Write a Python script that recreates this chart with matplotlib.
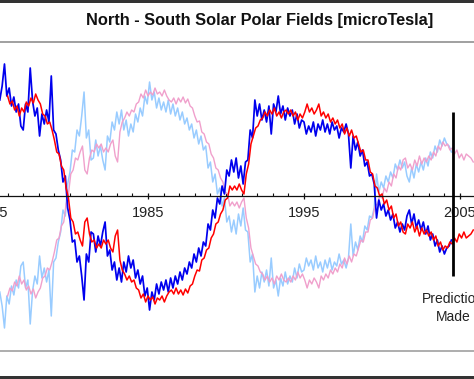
import numpy as np
import matplotlib
matplotlib.use("Agg")
import matplotlib.pyplot as plt
from matplotlib.patches import Rectangle
from matplotlib.lines import Line2D

# ---------------- data ----------------
title = "North - South Solar Polar Fields [microTesla]"
tick_years = [1975, 1985, 1995, 2005]
tick_labels = ["1975", "1985", "1995", "2005"]
prediction_year = 2004.57
prediction_span = (-80, 84)
prediction_text = "Prediction\nMade"

# North - South polar field (noisy), sampled every 0.15 yr from 1975.50
ns_start = 1975.50
ns_step = 0.15
ns_values = [
    96, 110, 132, 100, 108, 90, 99, 84, 92, 70,
    66, 92, 84, 128, 95, 80, 88, 60, 82, 72,
    86, 74, 120, 66, 62, 46, 36, 14, 20, -12,
    -24, -46, -44, -66, -60, -80, -104, -58, -66, -36,
    -38, -56, -40, -50, -36, -26, -60, -54, -74, -66,
    -84, -72, -86, -66, -76, -60, -72, -64, -82, -74,
    -88, -80, -100, -92, -114, -96, -104, -88, -98, -86,
    -94, -84, -96, -82, -92, -80, -88, -76, -84, -72,
    -78, -66, -72, -58, -66, -52, -60, -46, -50, -28,
    -34, -14, -22, -2, -8, 10, 2, 26, 20, 36,
    24, 38, 18, 30, 12, 34, 36, 66, 58, 96,
    80, 92, 76, 86, 74, 90, 62, 92, 84, 100,
    82, 90, 76, 88, 80, 86, 72, 82, 68, 76,
    74, 62, 70, 64, 74, 60, 72, 66, 76, 64,
    72, 62, 74, 66, 70, 58, 68, 64, 72, 62,
    28, 60, 46, 54, 40, 46, 30, 34, 20, 22,
    12, -22, -4, -14, -8, -20, -14, -24, -18, -32,
    -26, -36, -28, -34, -20, -14, -28, -18, -32, -24,
    -34, -26, -38, -30, -44, -38, -50, -44, -56, -50,
    -58, -52, -50, -44,
]

# North - South polar field (second record), sampled every 0.15 yr from 1976.00
ns2_start = 1976.00
ns2_step = 0.15
ns2_values = [
    100, 92, 95, 86, 90, 80, 88, 84, 94, 90,
    98, 93, 102, 96, 92, 82, 80, 72, 74, 66,
    56, 44, 42, 30, 26, 8, -2, -22, -26, -38,
    -36, -44, -50, -26, -22, -38, -46, -44, -52, -48,
    -52, -44, -48, -44, -52, -56, -40, -34, -64, -74,
    -78, -84, -80, -86, -84, -92, -94, -102, -98, -106,
    -100, -104, -101, -108, -102, -104, -100, -106, -100, -96,
    -94, -98, -92, -98, -94, -99, -93, -97, -90, -88,
    -80, -74, -75, -64, -62, -54, -52, -42, -38, -28,
    -26, -18, -14, -4, -2, 10, 6, 10, 6, 12,
    6, 2, 22, 32, 52, 60, 68, 70, 76, 78,
    84, 80, 86, 82, 88, 80, 84, 78, 84, 86,
    82, 86, 80, 84, 76, 82, 78, 84, 92, 84,
    88, 82, 86, 92, 80, 84, 78, 82, 74, 78,
    72, 76, 68, 72, 62, 68, 60, 66, 58, 60,
    52, 44, 46, 36, 36, 24, 22, 10, 8, 0,
    2, -8, -4, -14, -10, -22, -18, -30, -26, -36,
    -38, -28, -32, -26, -36, -30, -40, -32, -38, -34,
    -40, -36, -44, -40, -50, -46, -54, -50, -52, -46,
    -48, -42, -46, -38, -42, -36, -42, -40, -38, -34,
]

ns_years = ns_start + ns_step * np.arange(len(ns_values))
ns2_years = ns2_start + ns2_step * np.arange(len(ns2_values))
ns = np.array(ns_values, dtype=float)
ns2 = np.array(ns2_values, dtype=float)
# South - North mirrors
sn = -ns
sn2 = -ns2

# ---------------- figure ----------------
W, H = 474, 379
fig = plt.figure(figsize=(W / 100, H / 100), dpi=100)
fig.patch.set_facecolor("white")

ax_left_px = -20
ax_top_px, ax_bot_px = 41, 350
ax = fig.add_axes([ax_left_px / W, (H - ax_bot_px) / H,
                   (W - ax_left_px) / W, (ax_bot_px - ax_top_px) / H])
ax.set_facecolor("none")

ax.plot(ns_years, sn, color="#99ccff", lw=1.1, zorder=2)
ax.plot(ns2_years, sn2, color="#f0a0cc", lw=1.0, zorder=2.1)
ax.plot(ns_years, ns, color="#0000ee", lw=1.25, zorder=3)
ax.plot(ns2_years, ns2, color="#ff0000", lw=1.1, zorder=3.1)

ax.plot([prediction_year, prediction_year], prediction_span,
        color="black", lw=2.0, zorder=5, solid_capstyle="butt")
ax.text(prediction_year, -112, prediction_text, ha="center", va="center",
        multialignment="center", fontsize=10, linespacing=1.45,
        color="#222222", family="Liberation Sans")

ax.set_xlim(1985 + (ax_left_px - 148) / 15.6, 1985 + (W - 148) / 15.6)
ax.set_ylim(196 - ax_bot_px, 196 - ax_top_px)

for s in ["top", "left", "right"]:
    ax.spines[s].set_visible(False)
ax.spines["bottom"].set_position(("data", 0))
ax.spines["bottom"].set_color("#111111")
ax.spines["bottom"].set_linewidth(0.9)
ax.spines["bottom"].set_zorder(4)
ax.set_yticks([])
ax.set_xticks(tick_years)
ax.set_xticklabels(tick_labels, fontsize=10.5, family="Liberation Sans",
                   color="#222222")
ax.set_xticks(np.arange(tick_years[0], tick_years[-1] + 1), minor=True)
ax.tick_params(axis="x", which="major", direction="inout", length=5,
               width=0.9, pad=5, color="#111111")
ax.tick_params(axis="x", which="minor", direction="in", length=2,
               width=0.8, color="#111111")

# title and frame decorations
fig.text(260 / W, 1 - 20 / H, title, ha="center", va="center",
         fontsize=11.8, fontweight="bold", family="Liberation Sans",
         color="#111111")
fig.add_artist(Rectangle((0, 1 - 3 / H), 1, 3 / H, transform=fig.transFigure,
                         color="#333333", lw=0))
fig.add_artist(Rectangle((0, 0), 1, 3 / H, transform=fig.transFigure,
                         color="#333333", lw=0))
fig.add_artist(Line2D([0, 1], [1 - 41.5 / H] * 2, transform=fig.transFigure,
                      color="#a0a0a0", lw=1.4))
fig.add_artist(Line2D([0, 1], [1 - 350.5 / H] * 2, transform=fig.transFigure,
                      color="#a0a0a0", lw=1.2))

fig.savefig("out.png", dpi=100)
